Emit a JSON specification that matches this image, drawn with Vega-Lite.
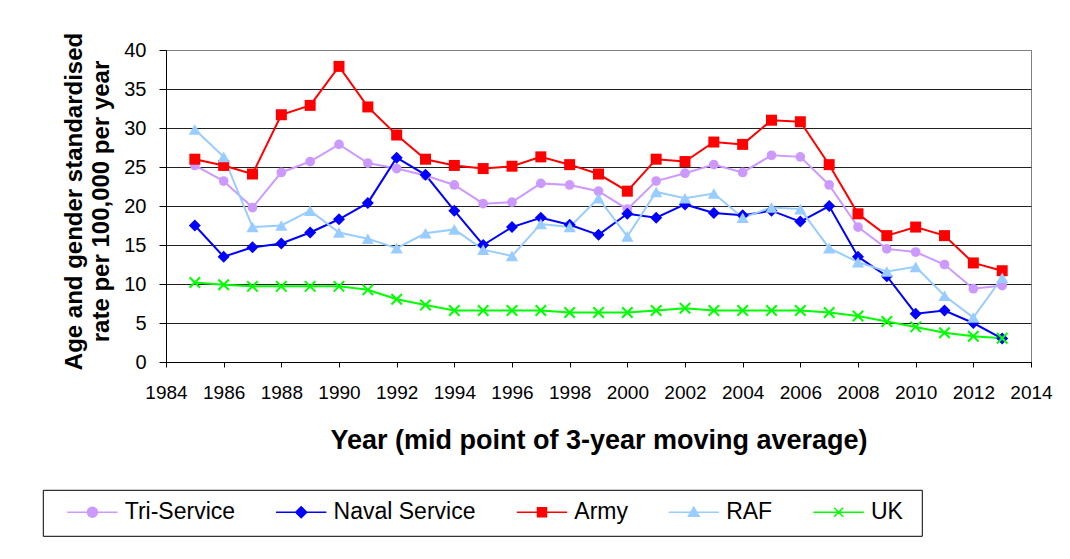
{
  "$schema": "https://vega.github.io/schema/vega-lite/v6.json",
  "autosize": {"type": "none"},
  "width": 865,
  "height": 312,
  "padding": {"left": 166, "top": 50, "right": 39, "bottom": 197},
  "background": "white",
  "config": {
    "font": "Liberation Sans",
    "view": {"stroke": "#808080", "strokeWidth": 1}
  },
  "data": {"values": [
    {"year":1985,"series":"Tri-Service","value":25.2},{"year":1986,"series":"Tri-Service","value":23.2},{"year":1987,"series":"Tri-Service","value":19.8},{"year":1988,"series":"Tri-Service","value":24.3},{"year":1989,"series":"Tri-Service","value":25.7},{"year":1990,"series":"Tri-Service","value":27.9},{"year":1991,"series":"Tri-Service","value":25.5},{"year":1992,"series":"Tri-Service","value":24.8},{"year":1993,"series":"Tri-Service","value":23.9},{"year":1994,"series":"Tri-Service","value":22.7},{"year":1995,"series":"Tri-Service","value":20.3},{"year":1996,"series":"Tri-Service","value":20.5},{"year":1997,"series":"Tri-Service","value":22.9},{"year":1998,"series":"Tri-Service","value":22.7},{"year":1999,"series":"Tri-Service","value":21.9},{"year":2000,"series":"Tri-Service","value":19.6},{"year":2001,"series":"Tri-Service","value":23.2},{"year":2002,"series":"Tri-Service","value":24.2},{"year":2003,"series":"Tri-Service","value":25.3},{"year":2004,"series":"Tri-Service","value":24.3},{"year":2005,"series":"Tri-Service","value":26.5},{"year":2006,"series":"Tri-Service","value":26.3},{"year":2007,"series":"Tri-Service","value":22.7},{"year":2008,"series":"Tri-Service","value":17.3},{"year":2009,"series":"Tri-Service","value":14.5},{"year":2010,"series":"Tri-Service","value":14.1},{"year":2011,"series":"Tri-Service","value":12.5},{"year":2012,"series":"Tri-Service","value":9.4},{"year":2013,"series":"Tri-Service","value":9.8},
    {"year":1985,"series":"Naval Service","value":17.5},{"year":1986,"series":"Naval Service","value":13.5},{"year":1987,"series":"Naval Service","value":14.7},{"year":1988,"series":"Naval Service","value":15.2},{"year":1989,"series":"Naval Service","value":16.6},{"year":1990,"series":"Naval Service","value":18.3},{"year":1991,"series":"Naval Service","value":20.4},{"year":1992,"series":"Naval Service","value":26.2},{"year":1993,"series":"Naval Service","value":24.0},{"year":1994,"series":"Naval Service","value":19.4},{"year":1995,"series":"Naval Service","value":15.0},{"year":1996,"series":"Naval Service","value":17.3},{"year":1997,"series":"Naval Service","value":18.5},{"year":1998,"series":"Naval Service","value":17.6},{"year":1999,"series":"Naval Service","value":16.3},{"year":2000,"series":"Naval Service","value":19.0},{"year":2001,"series":"Naval Service","value":18.5},{"year":2002,"series":"Naval Service","value":20.2},{"year":2003,"series":"Naval Service","value":19.1},{"year":2004,"series":"Naval Service","value":18.8},{"year":2005,"series":"Naval Service","value":19.4},{"year":2006,"series":"Naval Service","value":18.0},{"year":2007,"series":"Naval Service","value":20.0},{"year":2008,"series":"Naval Service","value":13.5},{"year":2009,"series":"Naval Service","value":11.0},{"year":2010,"series":"Naval Service","value":6.2},{"year":2011,"series":"Naval Service","value":6.6},{"year":2012,"series":"Naval Service","value":5.0},{"year":2013,"series":"Naval Service","value":3.0},
    {"year":1985,"series":"Army","value":26.0},{"year":1986,"series":"Army","value":25.2},{"year":1987,"series":"Army","value":24.1},{"year":1988,"series":"Army","value":31.7},{"year":1989,"series":"Army","value":32.9},{"year":1990,"series":"Army","value":37.9},{"year":1991,"series":"Army","value":32.7},{"year":1992,"series":"Army","value":29.1},{"year":1993,"series":"Army","value":26.0},{"year":1994,"series":"Army","value":25.2},{"year":1995,"series":"Army","value":24.8},{"year":1996,"series":"Army","value":25.1},{"year":1997,"series":"Army","value":26.3},{"year":1998,"series":"Army","value":25.3},{"year":1999,"series":"Army","value":24.1},{"year":2000,"series":"Army","value":21.9},{"year":2001,"series":"Army","value":26.0},{"year":2002,"series":"Army","value":25.7},{"year":2003,"series":"Army","value":28.2},{"year":2004,"series":"Army","value":27.9},{"year":2005,"series":"Army","value":31.0},{"year":2006,"series":"Army","value":30.8},{"year":2007,"series":"Army","value":25.3},{"year":2008,"series":"Army","value":19.0},{"year":2009,"series":"Army","value":16.2},{"year":2010,"series":"Army","value":17.3},{"year":2011,"series":"Army","value":16.2},{"year":2012,"series":"Army","value":12.7},{"year":2013,"series":"Army","value":11.7},
    {"year":1985,"series":"RAF","value":29.8},{"year":1986,"series":"RAF","value":26.3},{"year":1987,"series":"RAF","value":17.3},{"year":1988,"series":"RAF","value":17.5},{"year":1989,"series":"RAF","value":19.4},{"year":1990,"series":"RAF","value":16.6},{"year":1991,"series":"RAF","value":15.8},{"year":1992,"series":"RAF","value":14.6},{"year":1993,"series":"RAF","value":16.5},{"year":1994,"series":"RAF","value":17.0},{"year":1995,"series":"RAF","value":14.4},{"year":1996,"series":"RAF","value":13.6},{"year":1997,"series":"RAF","value":17.7},{"year":1998,"series":"RAF","value":17.3},{"year":1999,"series":"RAF","value":21.0},{"year":2000,"series":"RAF","value":16.1},{"year":2001,"series":"RAF","value":21.8},{"year":2002,"series":"RAF","value":21.0},{"year":2003,"series":"RAF","value":21.6},{"year":2004,"series":"RAF","value":18.5},{"year":2005,"series":"RAF","value":19.8},{"year":2006,"series":"RAF","value":19.6},{"year":2007,"series":"RAF","value":14.6},{"year":2008,"series":"RAF","value":12.8},{"year":2009,"series":"RAF","value":11.6},{"year":2010,"series":"RAF","value":12.2},{"year":2011,"series":"RAF","value":8.5},{"year":2012,"series":"RAF","value":5.7},{"year":2013,"series":"RAF","value":10.8},
    {"year":1985,"series":"UK","value":10.2},{"year":1986,"series":"UK","value":9.9},{"year":1987,"series":"UK","value":9.7},{"year":1988,"series":"UK","value":9.7},{"year":1989,"series":"UK","value":9.7},{"year":1990,"series":"UK","value":9.7},{"year":1991,"series":"UK","value":9.25},{"year":1992,"series":"UK","value":8.05},{"year":1993,"series":"UK","value":7.3},{"year":1994,"series":"UK","value":6.6},{"year":1995,"series":"UK","value":6.6},{"year":1996,"series":"UK","value":6.6},{"year":1997,"series":"UK","value":6.6},{"year":1998,"series":"UK","value":6.35},{"year":1999,"series":"UK","value":6.35},{"year":2000,"series":"UK","value":6.35},{"year":2001,"series":"UK","value":6.6},{"year":2002,"series":"UK","value":6.9},{"year":2003,"series":"UK","value":6.6},{"year":2004,"series":"UK","value":6.6},{"year":2005,"series":"UK","value":6.6},{"year":2006,"series":"UK","value":6.6},{"year":2007,"series":"UK","value":6.35},{"year":2008,"series":"UK","value":5.9},{"year":2009,"series":"UK","value":5.2},{"year":2010,"series":"UK","value":4.5},{"year":2011,"series":"UK","value":3.75},{"year":2012,"series":"UK","value":3.3},{"year":2013,"series":"UK","value":3.05}
  ]},
  "encoding": {
    "x": {
      "field": "year", "type": "quantitative",
      "scale": {"domain": [1984, 2014], "nice": false, "zero": false},
      "axis": {
        "title": "Year (mid point of 3-year moving average)",
        "values": [1984,1986,1988,1990,1992,1994,1996,1998,2000,2002,2004,2006,2008,2010,2012,2014],
        "format": "d", "grid": false, "labelFlush": false, "labelOverlap": false,
        "domainColor": "black", "domainWidth": 1, "tickColor": "black", "tickSize": 5, "tickWidth": 1,
        "labelFont": "Liberation Sans", "labelFontSize": 19, "labelPadding": 16, "labelColor": "black",
        "titleFont": "Liberation Sans", "titleFontSize": 27, "titleFontWeight": "bold", "titleColor": "black",
        "titleBaseline": "alphabetic", "titleX": 432.5, "titleY": 86, "titleAlign": "center"
      }
    },
    "y": {
      "field": "value", "type": "quantitative",
      "scale": {"domain": [0, 40], "nice": false, "zero": true},
      "axis": {
        "title": ["Age and gender standardised", "rate per 100,000 per year"],
        "values": [0,5,10,15,20,25,30,35,40],
        "grid": true,
        "gridColor": {"condition": {"test": "datum.value === 40", "value": "#808080"}, "value": "#222222"},
        "gridWidth": 1,
        "domainColor": "black", "domainWidth": 1, "tickColor": "black", "tickSize": 7, "tickWidth": 1,
        "labelFont": "Liberation Sans", "labelFontSize": 20, "labelPadding": 13, "labelColor": "black",
        "titleFont": "Liberation Sans", "titleFontSize": 24, "titleFontWeight": "bold", "titleColor": "black",
        "titleAngle": 270, "titleBaseline": "alphabetic", "titleAlign": "center",
        "titleX": -84.5, "titleY": 151, "titleLineHeight": 26.5
      }
    },
    "color": {
      "field": "series", "type": "nominal",
      "scale": {"domain": ["Tri-Service", "Naval Service", "Army", "RAF", "UK"], "range": ["#CC99FF", "#0000FF", "#FF0000", "#99CCFF", "#00FF00"]},
      "legend": {
        "title": null, "orient": "none", "legendX": -123.2, "legendY": 439.8,
        "direction": "horizontal", "columns": 5,
        "symbolSize": 400, "symbolStrokeWidth": 1.5, "symbolOffset": 12.2, "labelOffset": 36, "columnPadding": 22.8,
        "padding": 10.75, "strokeColor": "black",
        "labelFont": "Liberation Sans", "labelFontSize": 23, "labelColor": "black", "labelLimit": 0,
        "symbolOpacity": 1,
        "encode": {
          "symbols": {
            "update": {
              "shape": {"signal": "datum.value === 'Tri-Service' ? 'M-2.37,0L-2.37,0.001M-1,0H4.03M1.015,0A0.5,0.5 0 1,0 2.015,0A0.5,0.5 0 1,0 1.015,0Z' : datum.value === 'Naval Service' ? 'M-2.37,0L-2.37,0.001M-1,0H4.03M1.515,-0.55L2.065,0L1.515,0.55L0.965,0Z' : datum.value === 'Army' ? 'M-2.37,0L-2.37,0.001M-1,0H4.03M1.065,-0.45H1.965V0.45H1.065Z' : datum.value === 'RAF' ? 'M-2.37,0L-2.37,0.001M-1,0H4.03M1.515,-0.5L2.05,0.4H0.98Z' : 'M-2.37,0L-2.37,0.001M-1,0H4.03M1.065,-0.45L1.965,0.45M1.065,0.45L1.965,-0.45M8.4,0L8.4,0.001'"},
              "fill": {"signal": "scale('color', datum.value)"},
              "stroke": {"signal": "scale('color', datum.value)"},
              "strokeWidth": {"value": 1.5},
              "opacity": {"value": 1}
            }
          }
        }
      }
    }
  },
  "layer": [
    {"mark": {"type": "line", "strokeWidth": 2}},
    {"transform": [{"filter": {"field": "series", "equal": "Tri-Service"}}], "mark": {"type": "point", "filled": true, "opacity": 1, "shape": "circle", "size": 95}},
    {"transform": [{"filter": {"field": "series", "equal": "Naval Service"}}], "mark": {"type": "point", "filled": true, "opacity": 1, "shape": "diamond", "size": 144}},
    {"transform": [{"filter": {"field": "series", "equal": "Army"}}], "mark": {"type": "point", "filled": true, "opacity": 1, "shape": "square", "size": 121}},
    {"transform": [{"filter": {"field": "series", "equal": "RAF"}}], "mark": {"type": "point", "filled": true, "opacity": 1, "shape": "triangle-up", "size": 150}},
    {"transform": [{"filter": {"field": "series", "equal": "UK"}}], "mark": {"type": "point", "filled": false, "opacity": 1, "shape": "M-1,-1L1,1M-1,1L1,-1", "size": 110, "strokeWidth": 2}}
  ]
}
